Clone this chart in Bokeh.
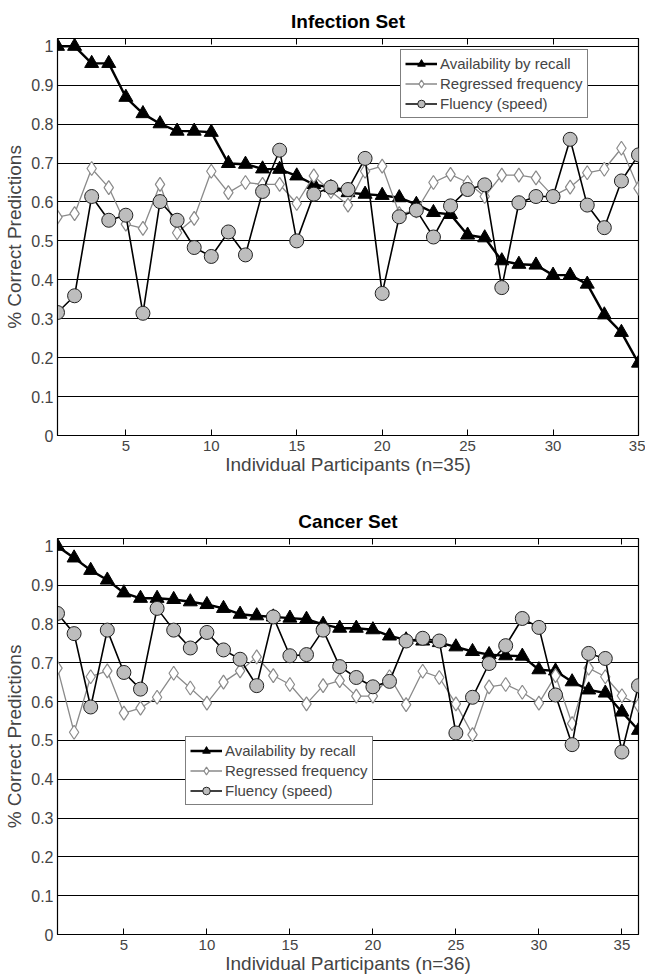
from bokeh.plotting import figure
from bokeh.models import LinearAxis, Legend, LegendItem, FixedTicker, Range1d
from bokeh.layouts import column
from bokeh.embed import file_html
from bokeh.resources import INLINE

# ---------------- data ----------------
series_names = ["Availability by recall", "Regressed frequency", "Fluency (speed)"]

infection_participants = list(range(1, 36))
infection_availability = [1.0, 1.0, 0.956, 0.956, 0.869, 0.827, 0.801, 0.782, 0.782, 0.779,
                          0.699, 0.697, 0.685, 0.684, 0.667, 0.645, 0.637, 0.624, 0.620, 0.617,
                          0.611, 0.594, 0.573, 0.568, 0.515, 0.508, 0.449, 0.440, 0.438, 0.412,
                          0.412, 0.389, 0.310, 0.265, 0.186]
infection_regressed = [0.561, 0.570, 0.686, 0.637, 0.543, 0.532, 0.645, 0.521, 0.558, 0.679,
                       0.624, 0.650, 0.645, 0.645, 0.596, 0.667, 0.627, 0.592, 0.679, 0.692,
                       0.570, 0.577, 0.650, 0.671, 0.650, 0.614, 0.669, 0.669, 0.662, 0.615,
                       0.638, 0.675, 0.684, 0.738, 0.635]
infection_fluency = [0.316, 0.359, 0.614, 0.553, 0.566, 0.314, 0.601, 0.553, 0.483, 0.460,
                     0.523, 0.464, 0.627, 0.733, 0.500, 0.620, 0.638, 0.632, 0.712, 0.365,
                     0.562, 0.579, 0.510, 0.590, 0.632, 0.644, 0.380, 0.598, 0.614, 0.614,
                     0.761, 0.592, 0.534, 0.654, 0.721]

cancer_participants = list(range(1, 37))
cancer_availability = [1.0, 0.970, 0.938, 0.913, 0.880, 0.866, 0.866, 0.863, 0.857, 0.850,
                       0.840, 0.825, 0.821, 0.818, 0.815, 0.812, 0.799, 0.789, 0.789, 0.785,
                       0.769, 0.759, 0.756, 0.752, 0.741, 0.729, 0.721, 0.718, 0.717, 0.682,
                       0.679, 0.651, 0.630, 0.622, 0.573, 0.526]
cancer_regressed = [0.686, 0.521, 0.664, 0.679, 0.570, 0.583, 0.611, 0.673, 0.635, 0.596,
                    0.650, 0.679, 0.715, 0.667, 0.644, 0.594, 0.641, 0.654, 0.614, 0.614,
                    0.664, 0.592, 0.678, 0.662, 0.594, 0.515, 0.638, 0.644, 0.624, 0.596,
                    0.667, 0.543, 0.686, 0.664, 0.615, 0.590]
cancer_fluency = [0.827, 0.775, 0.586, 0.784, 0.675, 0.632, 0.840, 0.784, 0.738, 0.778,
                  0.733, 0.709, 0.641, 0.818, 0.718, 0.721, 0.784, 0.690, 0.662, 0.638,
                  0.652, 0.756, 0.763, 0.756, 0.519, 0.611, 0.698, 0.744, 0.814, 0.791,
                  0.617, 0.489, 0.724, 0.711, 0.470, 0.641]

x_ticks = [5, 10, 15, 20, 25, 30, 35]
y_ticks = [0, 0.1, 0.2, 0.3, 0.4, 0.5, 0.6, 0.7, 0.8, 0.9, 1.0]
y_tick_labels = ["0", "0.1", "0.2", "0.3", "0.4", "0.5", "0.6", "0.7", "0.8", "0.9", "1"]

FONT = "Liberation Sans"


def make_panel(title, xs, avail, regr, flu, xlabel, height, border_top, border_bottom, legend_loc):
    p = figure(width=645, height=height, x_range=Range1d(1, xs[-1]), y_range=Range1d(0, 1.02),
               output_backend="svg", toolbar_location=None,
               min_border_left=57, min_border_right=7,
               min_border_top=border_top, min_border_bottom=border_bottom)
    p.title.text = title
    p.title.align = "center"
    p.title.text_font = FONT
    p.title.text_font_size = "19px"
    p.title.text_font_style = "bold"
    p.title.text_color = "black"
    p.title.standoff = 14

    p.outline_line_color = "black"
    p.outline_line_width = 1.2
    p.outline_line_alpha = 1
    p.xgrid.grid_line_color = None
    p.ygrid.grid_line_color = "black"
    p.ygrid.grid_line_width = 1
    p.ygrid.ticker = FixedTicker(ticks=y_ticks)

    ax = p.xaxis[0]
    ax.ticker = FixedTicker(ticks=x_ticks)
    ax.axis_label = xlabel
    ax.axis_label_text_font = FONT
    ax.axis_label_text_font_size = "19px"
    ax.axis_label_text_font_style = "normal"
    ax.axis_label_standoff = 0
    ax.major_label_text_font = FONT
    ax.major_label_text_font_size = "15px"
    ax.major_label_standoff = 5
    ax.major_tick_in = 6
    ax.major_tick_out = 0
    ax.minor_tick_line_color = None
    ax.axis_line_color = "black"

    ay = p.yaxis[0]
    ay.ticker = FixedTicker(ticks=y_ticks)
    ay.major_label_overrides = {t: l for t, l in zip(y_ticks, y_tick_labels)}
    ay.axis_label = "% Correct Predictions"
    ay.axis_label_text_font = FONT
    ay.axis_label_text_font_size = "19px"
    ay.axis_label_text_font_style = "normal"
    ay.axis_label_standoff = 3
    ay.major_label_text_font = FONT
    ay.major_label_text_font_size = "16px"
    ay.major_label_standoff = 4
    ay.major_tick_in = 0
    ay.major_tick_out = 0
    ay.minor_tick_line_color = None
    ay.axis_line_color = "black"

    top = LinearAxis(ticker=FixedTicker(ticks=x_ticks), major_label_text_color=None,
                     major_label_text_font_size="1px",
                     major_tick_in=6, major_tick_out=0, minor_tick_line_color=None,
                     axis_line_color=None, major_label_standoff=0)
    p.add_layout(top, "above")

    l1 = p.line(xs, avail, line_color="black", line_width=2.4)
    s1 = p.scatter(xs, avail, marker="triangle", size=14, fill_color="black", line_color="black")
    l2 = p.line(xs, regr, line_color="#8a8a8a", line_width=1.3)
    s2 = p.scatter(xs, regr, marker="diamond", size=14, fill_color="white", line_color="#8a8a8a",
                   line_width=1.2)
    l3 = p.line(xs, flu, line_color="black", line_width=1.6)
    s3 = p.scatter(xs, flu, marker="circle", size=14, fill_color="#bdbdbd", line_color="#222222",
                   line_width=1)

    legend = Legend(items=[LegendItem(label=series_names[0], renderers=[l1, s1]),
                           LegendItem(label=series_names[1], renderers=[l2, s2]),
                           LegendItem(label=series_names[2], renderers=[l3, s3])],
                    location=legend_loc, label_text_font=FONT, label_text_font_size="15px",
                    glyph_width=32, glyph_height=19, label_height=19, spacing=1,
                    padding=4, margin=0, label_standoff=3,
                    border_line_color="black", border_line_width=1,
                    background_fill_color="white", background_fill_alpha=1)
    p.add_layout(legend, "center")
    return p


p1 = make_panel("Infection Set", infection_participants, infection_availability,
                infection_regressed, infection_fluency,
                "Individual Participants (n=35)", 482, 38, 47, (343, 317))
p2 = make_panel("Cancer Set", cancer_participants, cancer_availability,
                cancer_regressed, cancer_fluency,
                "Individual Participants (n=36)", 494, 56, 42, (128, 129))

page = column(p1, p2, spacing=0)
open("out.html", "w").write(file_html(page, INLINE))
